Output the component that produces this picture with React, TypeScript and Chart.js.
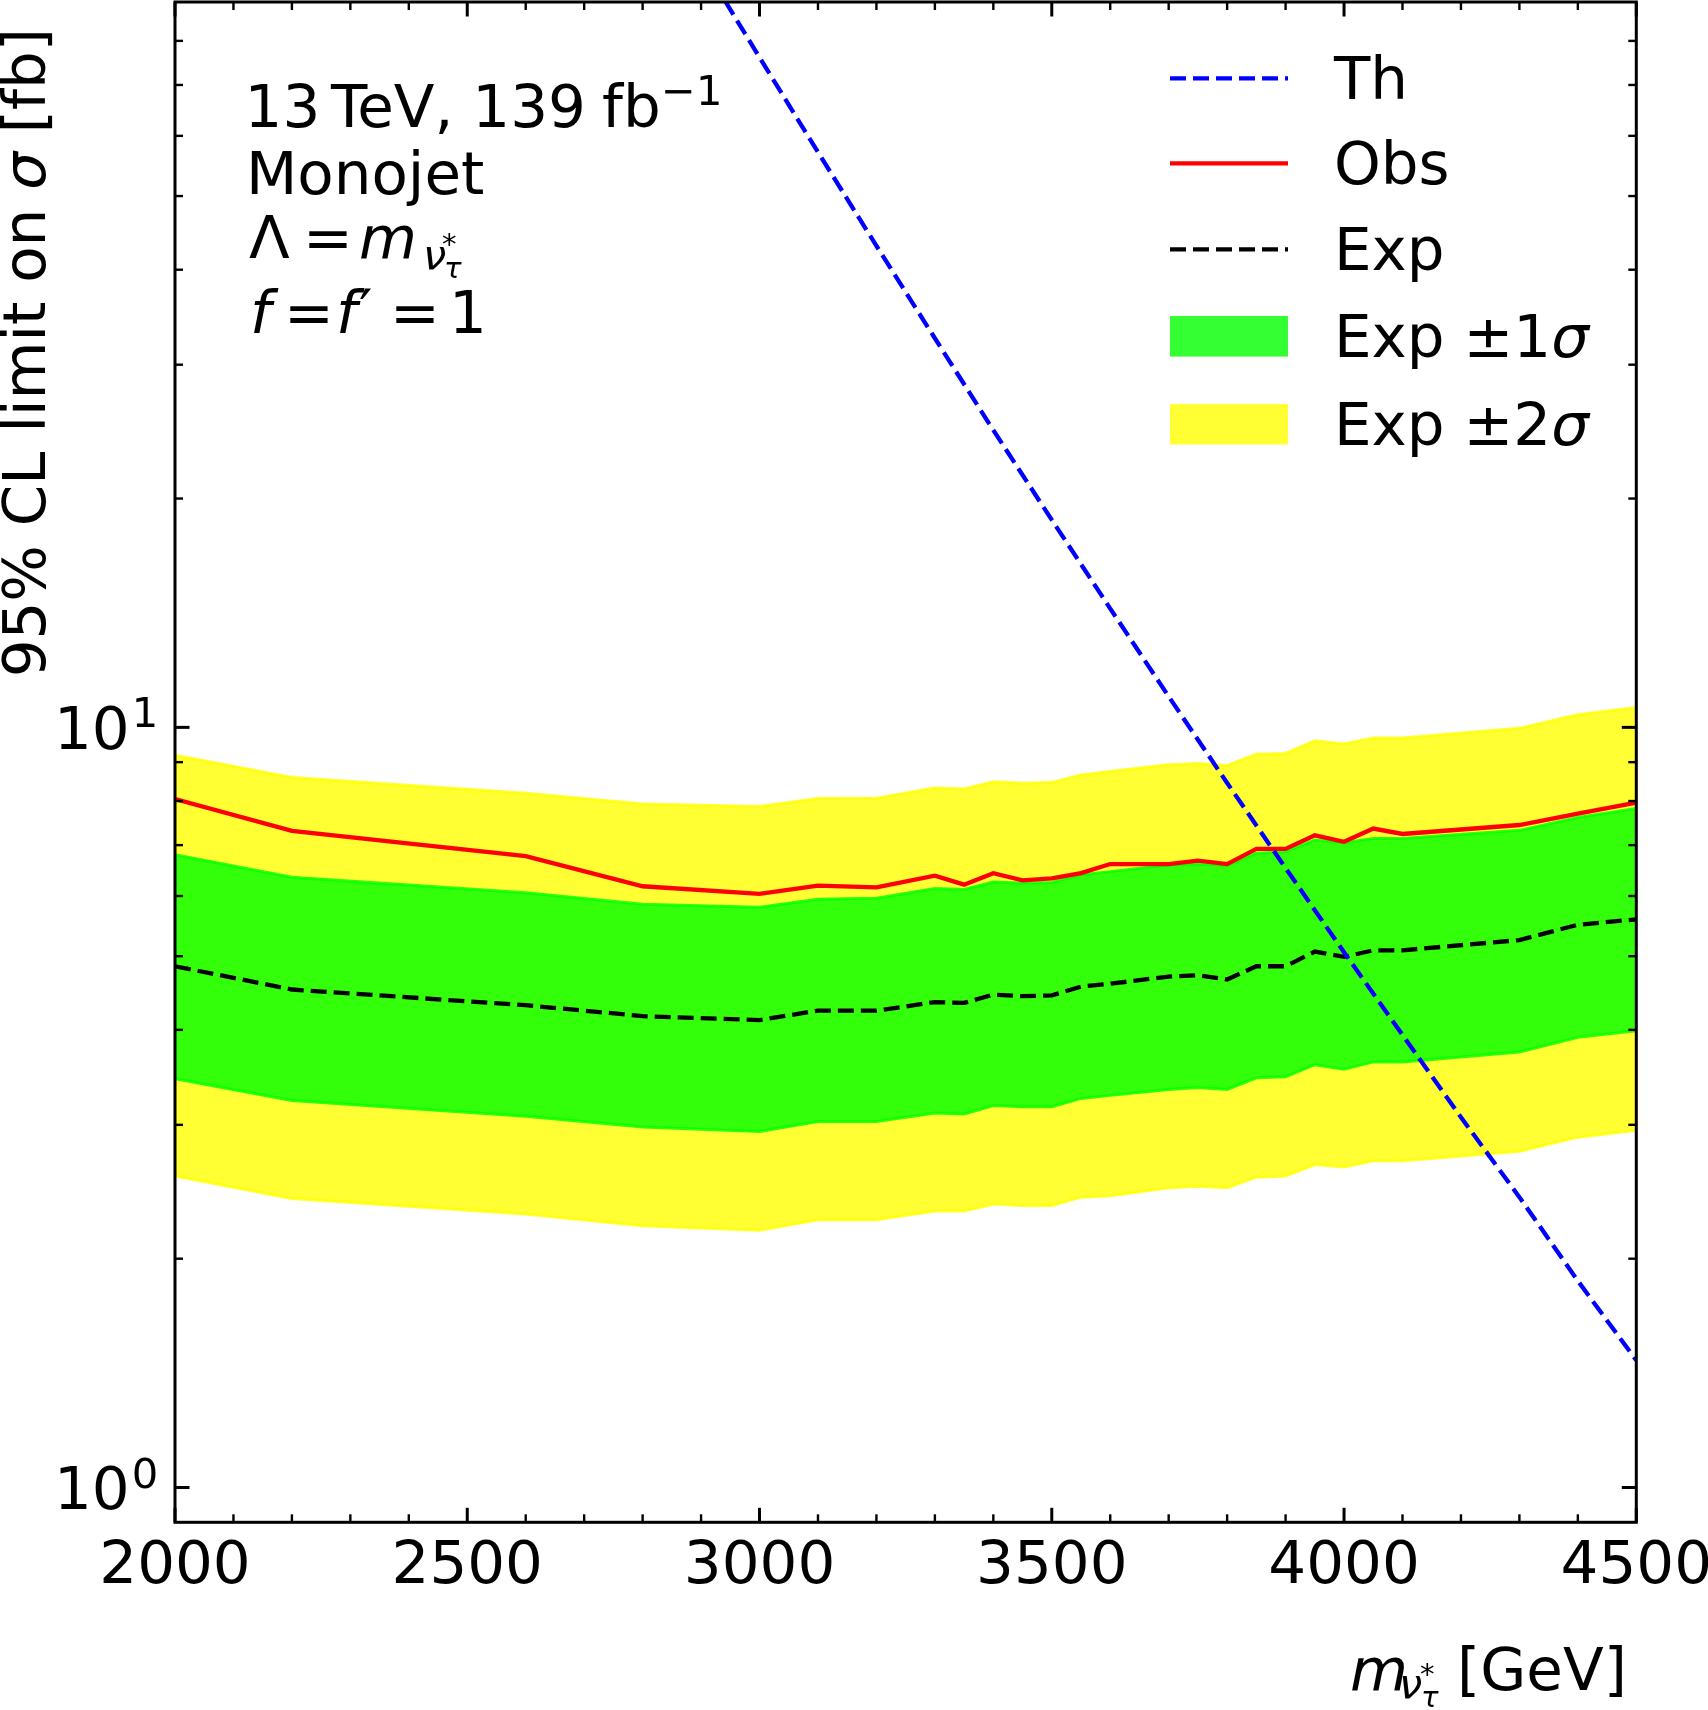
import { useEffect, useRef } from "react";
import { Chart, registerables } from "chart.js";

Chart.register(...registerables);

// ---------------- data ----------------
const masses = [2000, 2200, 2600, 2800, 3000, 3100, 3200, 3300, 3350, 3400, 3450, 3500, 3550, 3600, 3700, 3750, 3800, 3850, 3900, 3950, 4000, 4050, 4100, 4300, 4400, 4500];
const obsLimit = [8.05, 7.31, 6.77, 6.18, 6.04, 6.19, 6.16, 6.38, 6.21, 6.43, 6.29, 6.33, 6.43, 6.61, 6.61, 6.68, 6.61, 6.92, 6.92, 7.21, 7.07, 7.36, 7.24, 7.44, 7.7, 7.96];
const expLimit = [4.85, 4.52, 4.31, 4.17, 4.12, 4.24, 4.24, 4.35, 4.34, 4.45, 4.43, 4.44, 4.56, 4.6, 4.7, 4.72, 4.66, 4.85, 4.85, 5.07, 4.99, 5.09, 5.09, 5.25, 5.5, 5.59];
const expPlus1 = [6.8, 6.35, 6.06, 5.85, 5.8, 5.94, 5.96, 6.14, 6.12, 6.26, 6.24, 6.25, 6.4, 6.46, 6.59, 6.61, 6.58, 6.83, 6.86, 7.11, 7.05, 7.14, 7.14, 7.32, 7.61, 7.82];
const expMinus1 = [3.45, 3.23, 3.08, 2.98, 2.94, 3.03, 3.03, 3.11, 3.1, 3.18, 3.17, 3.17, 3.25, 3.28, 3.34, 3.36, 3.34, 3.46, 3.47, 3.6, 3.55, 3.63, 3.63, 3.74, 3.91, 3.99];
const expPlus2 = [9.19, 8.59, 8.19, 7.93, 7.87, 8.06, 8.07, 8.32, 8.3, 8.48, 8.44, 8.46, 8.66, 8.75, 8.93, 8.96, 8.91, 9.22, 9.24, 9.6, 9.51, 9.68, 9.68, 9.97, 10.39, 10.62];
const expMinus2 = [2.57, 2.4, 2.29, 2.21, 2.18, 2.25, 2.25, 2.31, 2.31, 2.36, 2.35, 2.35, 2.41, 2.42, 2.48, 2.49, 2.48, 2.56, 2.57, 2.66, 2.64, 2.69, 2.69, 2.77, 2.89, 2.95];

const thMasses = [2900, 3000, 3100, 3200, 3300, 3400, 3500, 3600, 3700, 3800, 3900, 4000, 4100, 4200, 4300, 4400, 4500];
const thXsec = [101.7, 76.1, 57.1, 43.0, 32.5, 24.6, 18.75, 14.33, 10.98, 8.45, 6.53, 5.06, 3.94, 3.07, 2.41, 1.87, 1.47];

const xMajorTicks = [2000, 2500, 3000, 3500, 4000, 4500];
const xTickLabels = ["2000", "2500", "3000", "3500", "4000", "4500"];
const xMinorTicks = [2100, 2200, 2300, 2400, 2600, 2700, 2800, 2900, 3100, 3200, 3300, 3400, 3600, 3700, 3800, 3900, 4100, 4200, 4300, 4400];
const yMajorTicks = [1, 10];
const yTickExponents = ["0", "1"];
const yMinorTicks = [2, 3, 4, 5, 6, 7, 8, 9, 20, 30, 40, 50, 60, 70, 80];

const legendLabels = ["Th", "Obs", "Exp", "Exp ±1", "Exp ±2"];

// ---------------- style ----------------
const FAMILY = '"DejaVu Sans"';
const FS = 59.5;
const SUB = FS * 0.7;
const SUB2 = FS * 0.49;
const LW = 4.3;
const DASH = [16, 7];
const YELLOW = "rgba(255,255,0,0.8)";
const GREEN = "rgba(0,255,0,0.8)";

type Seg = { t: string; size?: number; italic?: boolean; dy?: number; x?: number; gap?: number; keep?: boolean };

function drawRich(ctx: CanvasRenderingContext2D, x0: number, y: number, segs: Seg[]) {
  let cx = x0;
  for (const s of segs) {
    if (s.x !== undefined) cx = s.x;
    cx += s.gap ?? 0;
    ctx.font = `${s.italic ? "italic " : ""}${s.size ?? FS}px ${FAMILY}`;
    ctx.fillText(s.t, cx, y + (s.dy ?? 0));
    if (!s.keep) cx += ctx.measureText(s.t).width;
  }
  return cx;
}

function richWidth(ctx: CanvasRenderingContext2D, segs: Seg[]) {
  let w = 0;
  for (const s of segs) {
    ctx.font = `${s.italic ? "italic " : ""}${s.size ?? FS}px ${FAMILY}`;
    w += s.gap ?? 0;
    if (!s.keep) w += ctx.measureText(s.t).width;
  }
  return w;
}

const overlay = {
  id: "overlay",
  afterDraw(chart: any) {
    const ctx: CanvasRenderingContext2D = chart.ctx;
    const { left, right, top, bottom } = chart.chartArea;
    const xs = chart.scales.x;
    const ys = chart.scales.y;
    ctx.save();
    ctx.strokeStyle = "#000";
    ctx.fillStyle = "#000";
    ctx.setLineDash([]);
    const line = (x1: number, y1: number, x2: number, y2: number, w: number) => {
      ctx.lineWidth = w;
      ctx.beginPath();
      ctx.moveTo(x1, y1);
      ctx.lineTo(x2, y2);
      ctx.stroke();
    };
    // ticks (inward, all four sides)
    for (const v of xMinorTicks) {
      const p = xs.getPixelForValue(v);
      line(p, bottom, p, bottom - 8, 2.4);
      line(p, top, p, top + 8, 2.4);
    }
    for (const v of xMajorTicks) {
      const p = xs.getPixelForValue(v);
      line(p, bottom, p, bottom - 14.5, 3);
      line(p, top, p, top + 14.5, 3);
    }
    for (const v of yMinorTicks) {
      const p = ys.getPixelForValue(v);
      line(left, p, left + 8, p, 2.4);
      line(right, p, right - 8, p, 2.4);
    }
    for (const v of yMajorTicks) {
      const p = ys.getPixelForValue(v);
      line(left, p, left + 14.5, p, 3);
      line(right, p, right - 14.5, p, 3);
    }
    // frame
    ctx.lineWidth = 3;
    ctx.strokeRect(left, top, right - left, bottom - top);

    // x tick labels
    ctx.textAlign = "center";
    ctx.textBaseline = "alphabetic";
    ctx.font = `${FS}px ${FAMILY}`;
    xMajorTicks.forEach((v, i) => {
      ctx.fillText(xTickLabels[i], xs.getPixelForValue(v), 1582.5);
    });
    ctx.textAlign = "left";
    // y tick labels 10^n
    yMajorTicks.forEach((v, i) => {
      const p = ys.getPixelForValue(v);
      drawRich(ctx, 54, p + 21.5, [
        { t: "10" },
        { t: yTickExponents[i], size: SUB, dy: -21.5, gap: 2 },
      ]);
    });

    // y axis title (rotated, aligned to top)
    const ySegs: Seg[] = [
      { t: "95% CL limit on " },
      { t: "σ", italic: true },
      { t: " [fb]" },
    ];
    ctx.save();
    ctx.translate(45, 28);
    ctx.rotate(-Math.PI / 2);
    const yw = richWidth(ctx, ySegs);
    drawRich(ctx, -yw, 0, ySegs);
    ctx.restore();

    // x axis title
    drawRich(ctx, 1350, 1690, [
      { t: "m", italic: true },
      { t: "ν", italic: true, size: SUB, dy: 8, x: 1399 },
      { t: "*", size: SUB2, dy: -6, keep: true, x: 1420 },
      { t: "τ", italic: true, size: SUB2, dy: 17, x: 1421 },
      { t: "[GeV]", x: 1457 },
    ]);

    // annotation block
    drawRich(ctx, 244.6, 127, [
      { t: "13" },
      { t: "TeV, 139", x: 331 },
      { t: "fb", x: 602 },
      { t: "−1", size: SUB, dy: -22, x: 661 },
    ]);
    drawRich(ctx, 246, 194, [{ t: "Monojet" }]);
    drawRich(ctx, 249, 258, [
      { t: "Λ" },
      { t: "=", x: 303 },
      { t: "m", italic: true, x: 359 },
      { t: "ν", italic: true, size: SUB, dy: 11, x: 423 },
      { t: "*", size: SUB2, dy: -4, keep: true, x: 442 },
      { t: "τ", italic: true, size: SUB2, dy: 20, x: 444 },
    ]);
    drawRich(ctx, 250, 333, [
      { t: "f", italic: true },
      { t: "=", x: 284 },
      { t: "f", italic: true, x: 336 },
      { t: "′", x: 359, dy: -2 },
      { t: "=", x: 390 },
      { t: "1", x: 449 },
    ]);

    // legend
    const rows = [78.3, 163.3, 249.3, 336.3, 424.2];
    const hx1 = 1170, hx2 = 1288, tx = 1334;
    ctx.lineWidth = LW;
    ctx.setLineDash(DASH);
    ctx.strokeStyle = "#0000ff";
    ctx.beginPath(); ctx.moveTo(hx1, rows[0]); ctx.lineTo(hx2, rows[0]); ctx.stroke();
    ctx.setLineDash([]);
    ctx.strokeStyle = "#ff0000";
    ctx.beginPath(); ctx.moveTo(hx1, rows[1]); ctx.lineTo(hx2, rows[1]); ctx.stroke();
    ctx.setLineDash(DASH);
    ctx.strokeStyle = "#000000";
    ctx.beginPath(); ctx.moveTo(hx1, rows[2]); ctx.lineTo(hx2, rows[2]); ctx.stroke();
    ctx.setLineDash([]);
    ctx.fillStyle = GREEN;
    ctx.fillRect(hx1, rows[3] - 20.3, hx2 - hx1, 40.6);
    ctx.fillStyle = YELLOW;
    ctx.fillRect(hx1, rows[4] - 20.3, hx2 - hx1, 40.6);
    ctx.fillStyle = "#000";
    drawRich(ctx, tx, rows[0] + 21, [{ t: legendLabels[0] }]);
    drawRich(ctx, tx, rows[1] + 21, [{ t: legendLabels[1] }]);
    drawRich(ctx, tx, rows[2] + 21, [{ t: legendLabels[2] }]);
    drawRich(ctx, tx, rows[3] + 21, [{ t: legendLabels[3] }, { t: "σ", italic: true }]);
    drawRich(ctx, tx, rows[4] + 21, [{ t: legendLabels[4] }, { t: "σ", italic: true }]);

    ctx.restore();
  },
};

export default function App() {
  const ref = useRef<HTMLCanvasElement | null>(null);
  useEffect(() => {
    document.body.style.margin = "0";
    const canvas = ref.current;
    if (!canvas) return;
    const pts = (ys: number[]) => masses.map((m, i) => ({ x: m, y: ys[i] }));
    const chart = new Chart(canvas, {
      type: "line",
      data: {
        datasets: [
          {
            label: "Th",
            data: thMasses.map((m, i) => ({ x: m, y: thXsec[i] })),
            borderColor: "#0000ff",
            borderWidth: LW,
            borderDash: DASH,
            pointRadius: 0,
            fill: false,
            tension: 0,
          },
          {
            label: "Obs",
            data: pts(obsLimit),
            borderColor: "#ff0000",
            borderWidth: LW,
            pointRadius: 0,
            fill: false,
            tension: 0,
          },
          {
            label: "Exp",
            data: pts(expLimit),
            borderColor: "#000000",
            borderWidth: LW,
            borderDash: DASH,
            pointRadius: 0,
            fill: false,
            tension: 0,
          },
          {
            label: "Exp +1σ",
            data: pts(expPlus1),
            borderColor: GREEN,
            backgroundColor: GREEN,
            borderWidth: 3,
            pointRadius: 0,
            fill: "+1",
            tension: 0,
          },
          {
            label: "Exp -1σ",
            data: pts(expMinus1),
            borderColor: GREEN,
            borderWidth: 3,
            pointRadius: 0,
            fill: false,
            tension: 0,
          },
          {
            label: "Exp +2σ",
            data: pts(expPlus2),
            borderColor: YELLOW,
            backgroundColor: YELLOW,
            borderWidth: 3,
            pointRadius: 0,
            fill: "+1",
            tension: 0,
          },
          {
            label: "Exp -2σ",
            data: pts(expMinus2),
            borderColor: YELLOW,
            borderWidth: 3,
            pointRadius: 0,
            fill: false,
            tension: 0,
          },
        ],
      },
      options: {
        responsive: false,
        animation: false,
        devicePixelRatio: 1,
        events: [],
        layout: { padding: { left: 175, right: 71.7, top: 2, bottom: 187.7 } },
        scales: {
          x: { type: "linear", min: 2000, max: 4500, display: false },
          y: { type: "logarithmic", min: 0.9, max: 90, display: false },
        },
        plugins: { legend: { display: false }, tooltip: { enabled: false } },
      } as any,
      plugins: [overlay as any],
    });
    return () => chart.destroy();
  }, []);
  return (
    <canvas
      ref={ref}
      width={1708}
      height={1710}
      style={{ display: "block", width: 1708, height: 1710, background: "#fff" }}
    />
  );
}
